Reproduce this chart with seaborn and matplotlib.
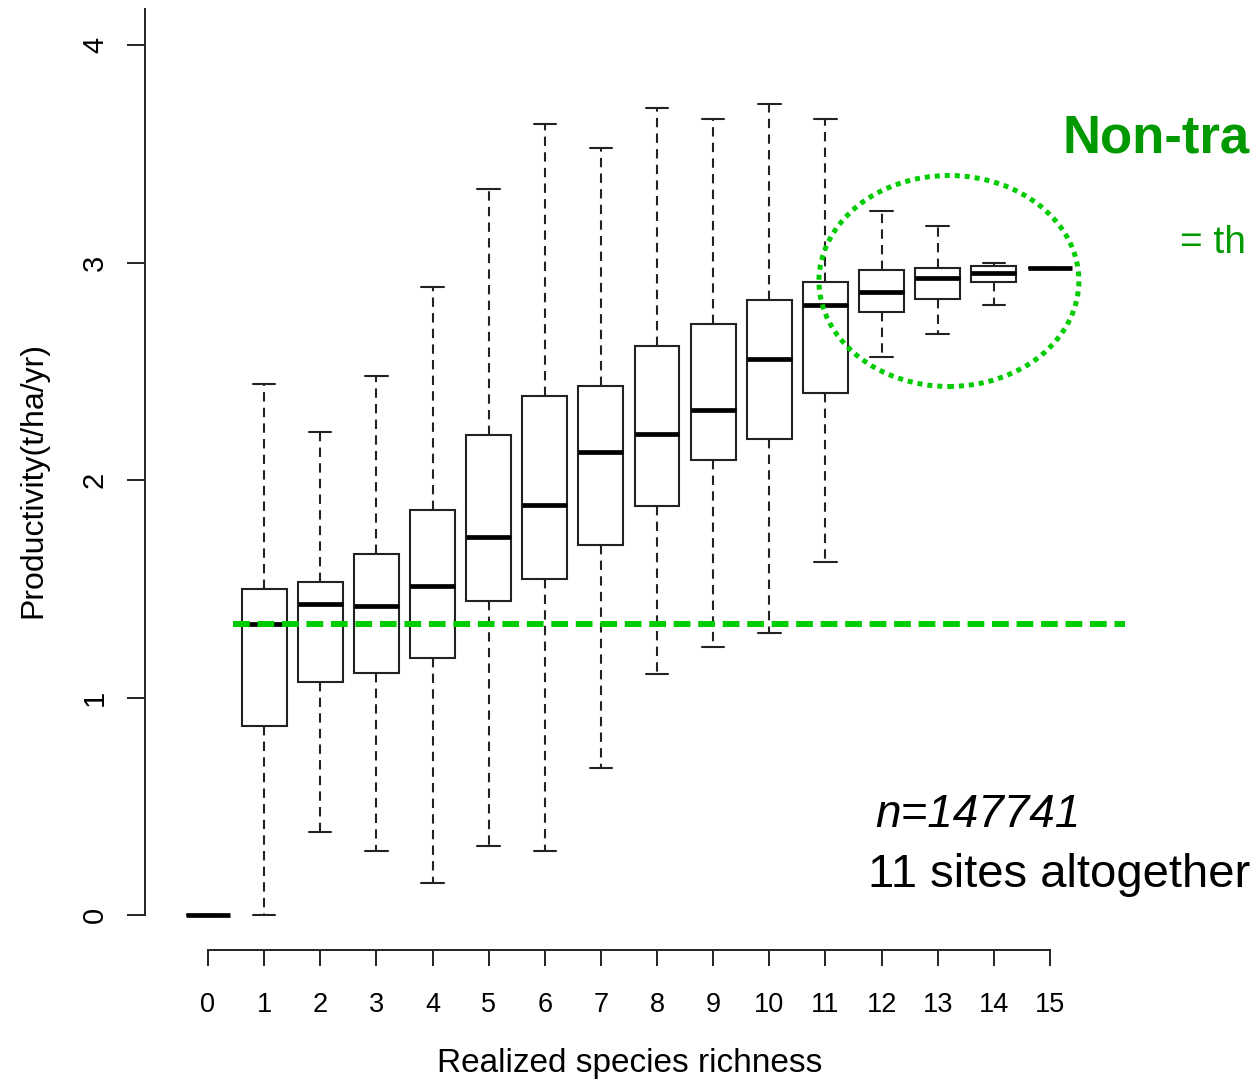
import matplotlib
import matplotlib.pyplot as plt
import numpy as np
import pandas as pd
import seaborn as sns
from matplotlib.patches import Ellipse

matplotlib.use("Agg")

# Box statistics (t/ha/yr), one entry per richness level
richness = list(range(16))
whisker_low = [0.0, 0.0, 0.38, 0.296, 0.146, 0.317, 0.294, 0.674, 1.11, 1.234, 1.297, 1.623, 2.564, 2.67, 2.803, 2.973]
lower_quartile = [0.0, 0.869, 1.071, 1.111, 1.18, 1.444, 1.545, 1.701, 1.879, 2.09, 2.19, 2.399, 2.772, 2.834, 2.912, 2.973]
median = [0.0, 1.338, 1.428, 1.421, 1.514, 1.738, 1.887, 2.127, 2.213, 2.322, 2.555, 2.803, 2.866, 2.927, 2.952, 2.973]
upper_quartile = [0.0, 1.499, 1.53, 1.661, 1.864, 2.205, 2.385, 2.431, 2.618, 2.717, 2.826, 2.912, 2.966, 2.973, 2.984, 2.973]
whisker_high = [0.0, 2.441, 2.221, 2.478, 2.887, 3.34, 3.635, 3.525, 3.712, 3.658, 3.727, 3.658, 3.237, 3.168, 2.998, 2.973]
reference_level = 1.338  # median of single-species plots
y_ticks = [0, 1, 2, 3, 4]

GREEN = "#00cc00"
DARK_GREEN = "#009900"

# five values per group -> quartiles fall exactly on the given numbers
rows = []
for k, lo, q1, med, q3, hi in zip(richness, whisker_low, lower_quartile, median, upper_quartile, whisker_high):
    for v in (lo, q1, med, q3, hi):
        rows.append({"richness": k, "productivity": v})
df = pd.DataFrame(rows)

sns.set_style("white")
plt.rcParams["font.family"] = ["Liberation Sans", "DejaVu Sans"]

fig = plt.figure(figsize=(12.54, 10.81), dpi=100)
ax = fig.add_axes([0.10766, 0.11332, 0.84155, 0.88529])

sns.boxplot(
    data=df,
    x="richness",
    y="productivity",
    order=richness,
    whis=(0, 100),
    width=0.8,
    color="white",
    linecolor="black",
    linewidth=1.5,
    showfliers=False,
    medianprops=dict(linewidth=3.4, color="black", solid_capstyle="butt"),
    whiskerprops=dict(linestyle=(0, (4.5, 3)), color="#222222"),
    capprops=dict(color="#222222"),
    boxprops=dict(edgecolor="#222222"),
    ax=ax,
)

# reference line and highlighted group
ax.plot([0.45, 16.34], [reference_level, reference_level], color=GREEN, lw=4.3,
        ls=(0, (2.8, 1.3)), clip_on=False, zorder=5)
ax.add_patch(Ellipse((13.2, 2.915), 4.63, 0.97, fill=False, edgecolor=GREEN,
                     lw=3.6, ls=(0, (1, 1)), zorder=6, clip_on=False))

ax.set_xlim(-1.3, 17.5)
ax.set_ylim(-0.2, 4.2)

for s in ["top", "right"]:
    ax.spines[s].set_visible(False)
ax.spines["left"].set_position(("data", -1.122))
ax.spines["left"].set_bounds(0, 4.166)
ax.spines["bottom"].set_position(("data", -0.161))
ax.spines["bottom"].set_bounds(0, 15)
for s in ["left", "bottom"]:
    ax.spines[s].set_color("#222222")
    ax.spines[s].set_linewidth(1.4)

ax.set_xticks(richness)
ax.set_xticklabels([str(r) for r in richness])
ax.set_yticks(y_ticks)
ax.set_yticklabels([str(t) for t in y_ticks], rotation=90, va="center")
ax.tick_params(axis="x", direction="out", length=11.5, width=1.4, pad=19,
               labelsize=19.5, color="#222222", labelcolor="black", bottom=True)
ax.tick_params(axis="y", direction="out", length=13, width=1.4, pad=13,
               labelsize=21, color="#222222", labelcolor="black", left=True)

ax.set_xlabel("Realized species richness", fontsize=24, color="black")
ax.set_ylabel("Productivity(t/ha/yr)", fontsize=23, color="black")
ax.xaxis.set_label_coords(0.469, -0.093)
ax.yaxis.set_label_coords(-0.082, 0.5)

ax.text(15.23, 3.505, "Non-tra", color=DARK_GREEN, fontsize=38, fontweight="bold",
        va="baseline", ha="left", clip_on=False)
ax.text(17.32, 3.044, "= th", color=DARK_GREEN, fontsize=28,
        va="baseline", ha="left", clip_on=False)
ax.text(11.88, 0.405, "n=147741", color="black", fontsize=33, fontstyle="italic",
        va="baseline", ha="left", clip_on=False)
ax.text(11.76, 0.129, "11 sites altogether", color="black", fontsize=34,
        va="baseline", ha="left", clip_on=False)

fig.savefig("out.png", dpi=100)
